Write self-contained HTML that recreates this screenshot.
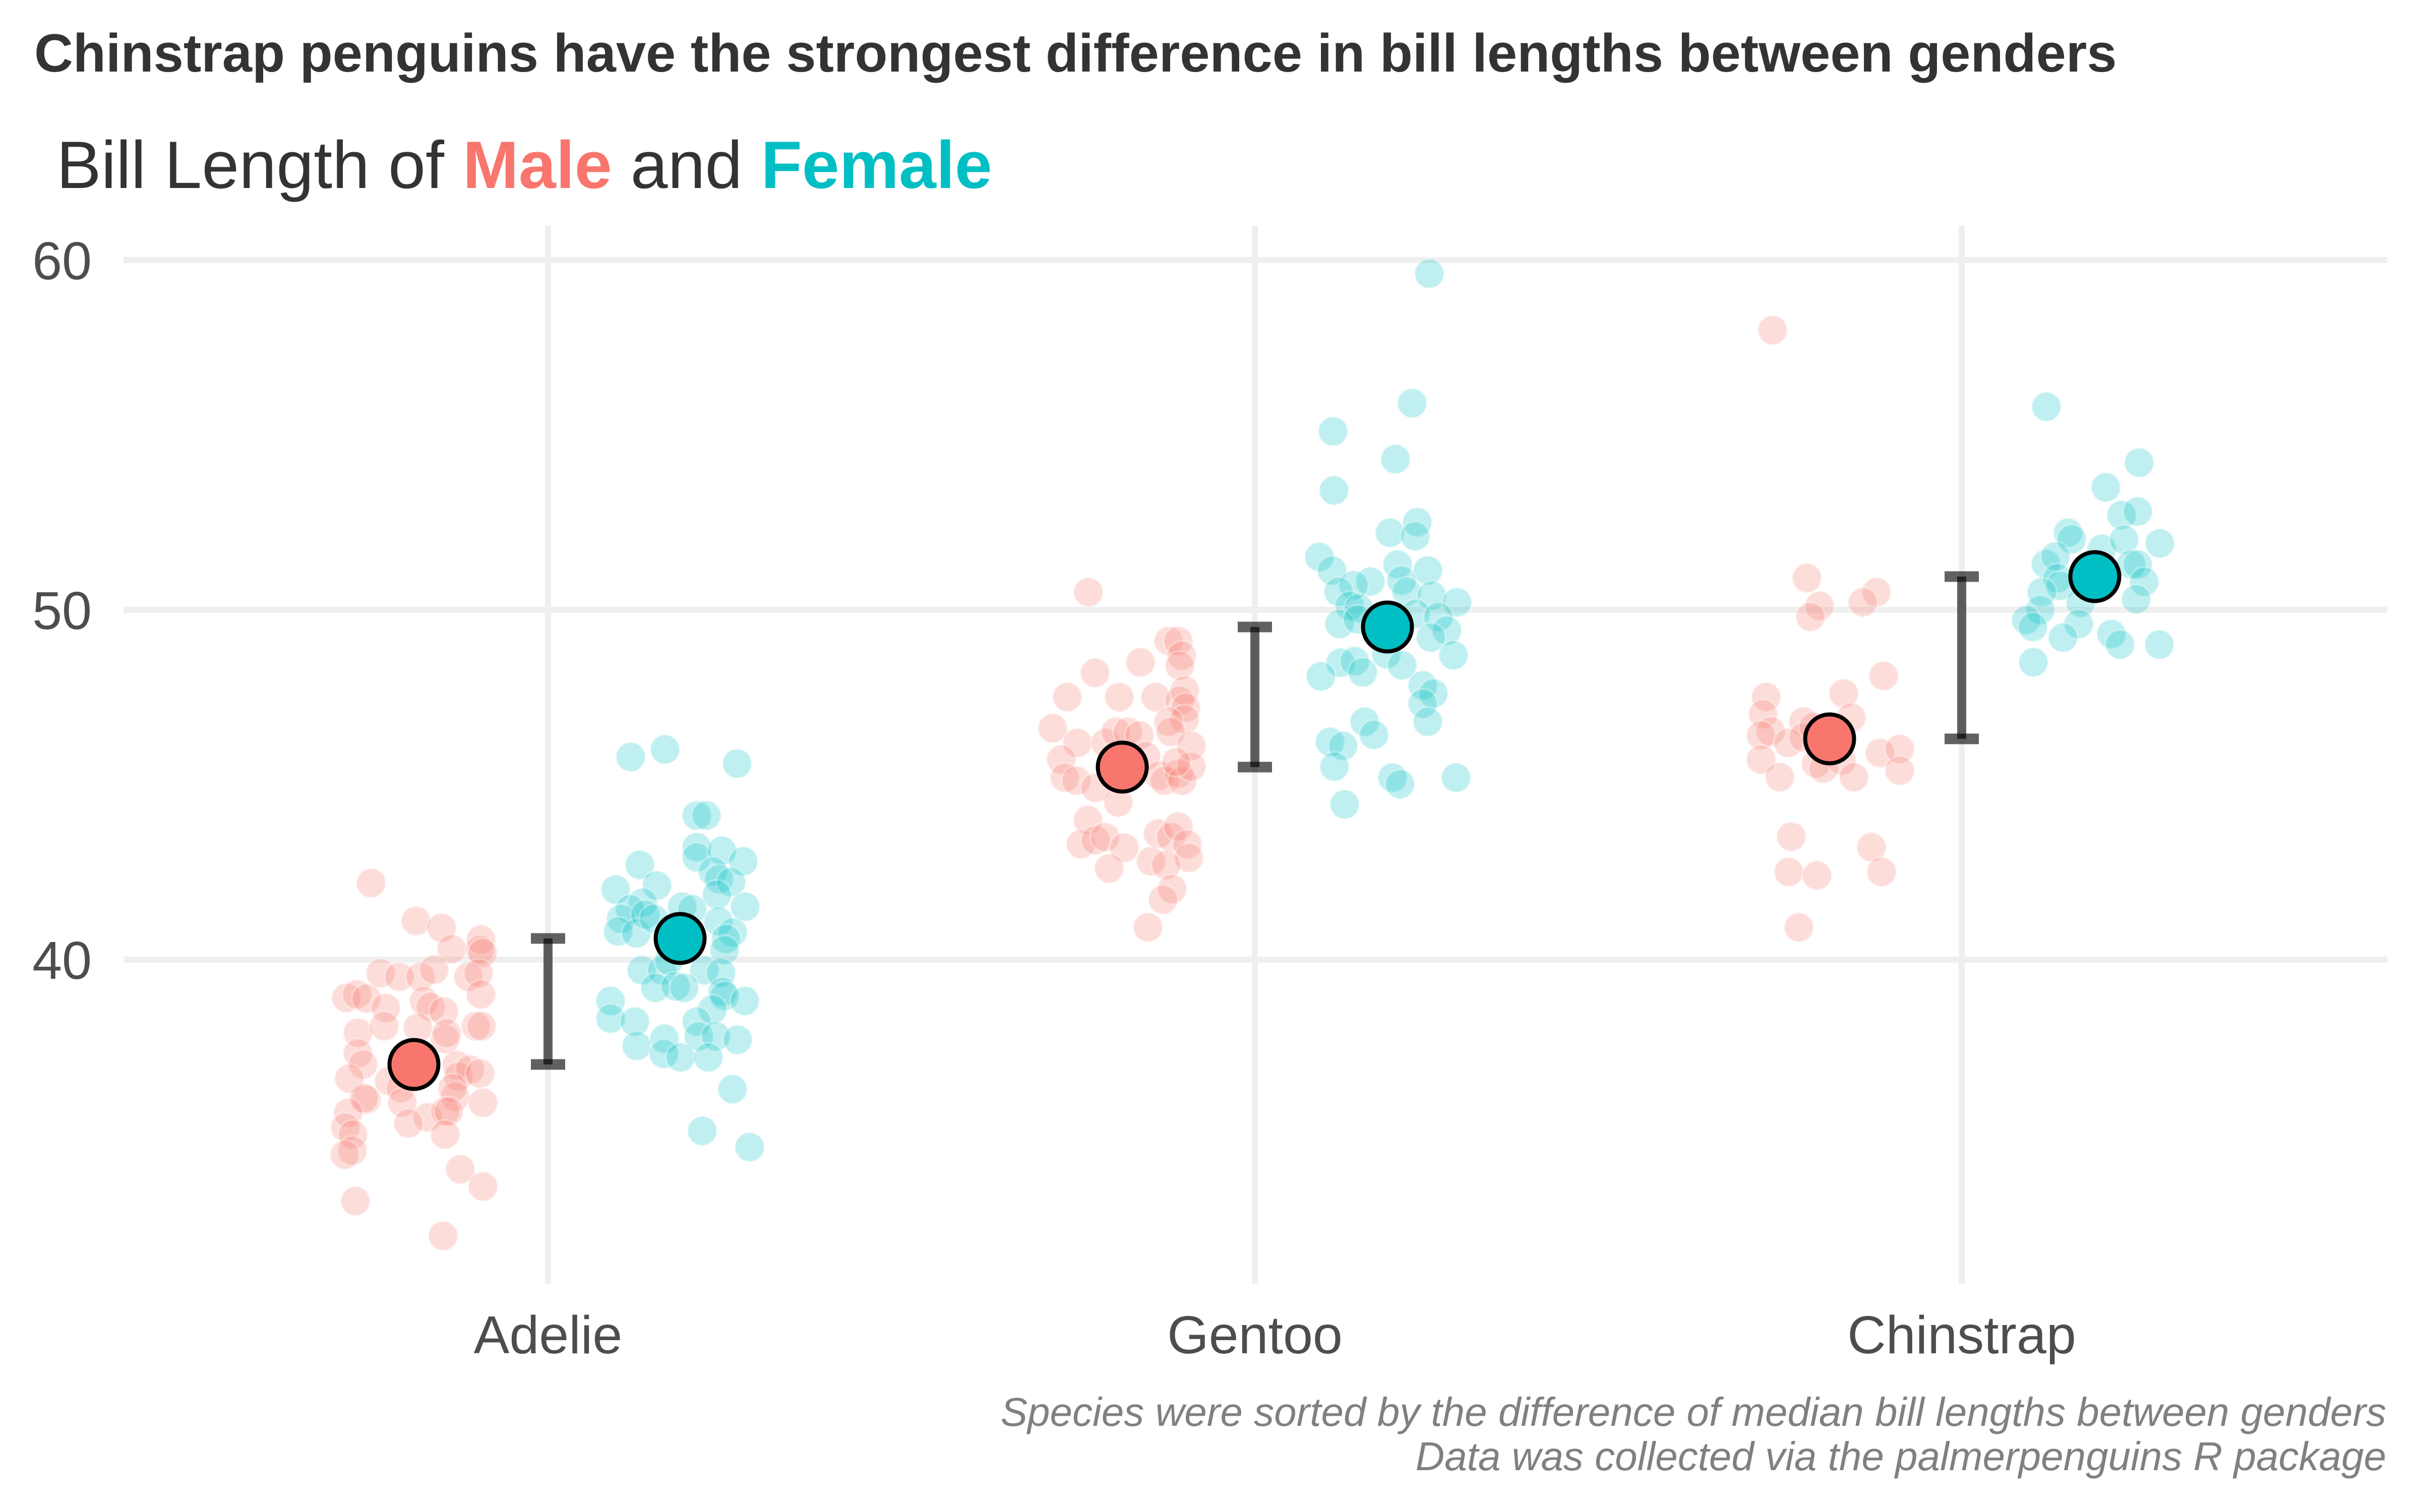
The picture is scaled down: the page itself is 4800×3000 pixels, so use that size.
<!DOCTYPE html>
<html>
<head>
<meta charset="utf-8">
<style>
html,body{margin:0;padding:0;background:#fff;}
svg{display:block;}
text{font-family:"Liberation Sans", Arial, sans-serif;}
</style>
</head>
<body>
<svg width="4800" height="3000" viewBox="0 0 4800 3000" xmlns="http://www.w3.org/2000/svg">
<rect width="4800" height="3000" fill="#ffffff"/>

<text x="68" y="142" font-size="106.5" font-weight="bold" fill="#333333">Chinstrap penguins have the strongest difference in bill lengths between genders</text>
<text x="112" y="373" font-size="133" fill="#333333">Bill Length of <tspan fill="#F8766D" font-weight="bold">Male</tspan> and <tspan fill="#00BFC4" font-weight="bold">Female</tspan></text>

<g stroke="#EFEFEF" stroke-width="12">
  <line x1="245" y1="516" x2="4735" y2="516"/>
  <line x1="245" y1="1210" x2="4735" y2="1210"/>
  <line x1="245" y1="1904" x2="4735" y2="1904"/>
  <line x1="1087" y1="448" x2="1087" y2="2547"/>
  <line x1="2489" y1="448" x2="2489" y2="2547"/>
  <line x1="3891" y1="448" x2="3891" y2="2547"/>
</g>

<g font-size="106" fill="#4D4D4D" text-anchor="end">
  <text x="182" y="554">60</text>
  <text x="182" y="1248">50</text>
  <text x="182" y="1942">40</text>
</g>

<g font-size="106" fill="#4D4D4D" text-anchor="middle">
  <text x="1087" y="2685">Adelie</text>
  <text x="2489" y="2685">Gentoo</text>
  <text x="3891" y="2685">Chinstrap</text>
</g>

<g font-size="80" font-style="italic" fill="#808080" text-anchor="end">
  <text x="4733" y="2829">Species were sorted by the difference of median bill lengths between genders</text>
  <text x="4733" y="2917">Data was collected via the palmerpenguins R package</text>
</g>

<g fill="rgba(248,118,109,0.25)" stroke="rgba(255,255,255,0.3)" stroke-width="4">
  <circle cx="736" cy="1752" r="29"/>
  <circle cx="825" cy="1827" r="29"/>
  <circle cx="876" cy="1841" r="29"/>
  <circle cx="954" cy="1864" r="29"/>
  <circle cx="896" cy="1883" r="29"/>
  <circle cx="952" cy="1884" r="29"/>
  <circle cx="957" cy="1891" r="29"/>
  <circle cx="755" cy="1931" r="29"/>
  <circle cx="792" cy="1938" r="29"/>
  <circle cx="834" cy="1938" r="29"/>
  <circle cx="861" cy="1924" r="29"/>
  <circle cx="929" cy="1938" r="29"/>
  <circle cx="949" cy="1931" r="29"/>
  <circle cx="687" cy="1980" r="29"/>
  <circle cx="708" cy="1973" r="29"/>
  <circle cx="727" cy="1981" r="29"/>
  <circle cx="765" cy="2000" r="29"/>
  <circle cx="841" cy="1986" r="29"/>
  <circle cx="854" cy="1998" r="29"/>
  <circle cx="880" cy="2007" r="29"/>
  <circle cx="954" cy="1973" r="29"/>
  <circle cx="710" cy="2049" r="29"/>
  <circle cx="762" cy="2036" r="29"/>
  <circle cx="829" cy="2039" r="29"/>
  <circle cx="883" cy="2062" r="29"/>
  <circle cx="886" cy="2050" r="29"/>
  <circle cx="944" cy="2036" r="29"/>
  <circle cx="955" cy="2036" r="29"/>
  <circle cx="710" cy="2090" r="29"/>
  <circle cx="720" cy="2112" r="29"/>
  <circle cx="693" cy="2140" r="29"/>
  <circle cx="772" cy="2145" r="29"/>
  <circle cx="906" cy="2113" r="29"/>
  <circle cx="909" cy="2136" r="29"/>
  <circle cx="932" cy="2122" r="29"/>
  <circle cx="952" cy="2130" r="29"/>
  <circle cx="727" cy="2182" r="29"/>
  <circle cx="722" cy="2179" r="29"/>
  <circle cx="795" cy="2159" r="29"/>
  <circle cx="798" cy="2188" r="29"/>
  <circle cx="691" cy="2208" r="29"/>
  <circle cx="903" cy="2176" r="29"/>
  <circle cx="898" cy="2159" r="29"/>
  <circle cx="958" cy="2188" r="29"/>
  <circle cx="848" cy="2217" r="29"/>
  <circle cx="883" cy="2205" r="29"/>
  <circle cx="890" cy="2205" r="29"/>
  <circle cx="810" cy="2229" r="29"/>
  <circle cx="685" cy="2237" r="29"/>
  <circle cx="700" cy="2251" r="29"/>
  <circle cx="883" cy="2251" r="29"/>
  <circle cx="699" cy="2283" r="29"/>
  <circle cx="684" cy="2291" r="29"/>
  <circle cx="913" cy="2320" r="29"/>
  <circle cx="958" cy="2354" r="29"/>
  <circle cx="705" cy="2383" r="29"/>
  <circle cx="879" cy="2452" r="29"/>
  <circle cx="2159" cy="1175" r="29"/>
  <circle cx="2318" cy="1272" r="29"/>
  <circle cx="2337" cy="1272" r="29"/>
  <circle cx="2344" cy="1301" r="29"/>
  <circle cx="2340" cy="1321" r="29"/>
  <circle cx="2262" cy="1314" r="29"/>
  <circle cx="2172" cy="1335" r="29"/>
  <circle cx="2117" cy="1383" r="29"/>
  <circle cx="2220" cy="1383" r="29"/>
  <circle cx="2292" cy="1383" r="29"/>
  <circle cx="2350" cy="1370" r="29"/>
  <circle cx="2340" cy="1390" r="29"/>
  <circle cx="2352" cy="1404" r="29"/>
  <circle cx="2350" cy="1427" r="29"/>
  <circle cx="2318" cy="1432" r="29"/>
  <circle cx="2322" cy="1452" r="29"/>
  <circle cx="2088" cy="1445" r="29"/>
  <circle cx="2137" cy="1474" r="29"/>
  <circle cx="2193" cy="1474" r="29"/>
  <circle cx="2213" cy="1452" r="29"/>
  <circle cx="2237" cy="1452" r="29"/>
  <circle cx="2260" cy="1459" r="29"/>
  <circle cx="2363" cy="1480" r="29"/>
  <circle cx="2105" cy="1507" r="29"/>
  <circle cx="2112" cy="1543" r="29"/>
  <circle cx="2135" cy="1549" r="29"/>
  <circle cx="2173" cy="1563" r="29"/>
  <circle cx="2218" cy="1592" r="29"/>
  <circle cx="2273" cy="1500" r="29"/>
  <circle cx="2300" cy="1539" r="29"/>
  <circle cx="2310" cy="1549" r="29"/>
  <circle cx="2338" cy="1535" r="29"/>
  <circle cx="2345" cy="1549" r="29"/>
  <circle cx="2363" cy="1521" r="29"/>
  <circle cx="2333" cy="1512" r="29"/>
  <circle cx="2158" cy="1627" r="29"/>
  <circle cx="2144" cy="1675" r="29"/>
  <circle cx="2173" cy="1667" r="29"/>
  <circle cx="2192" cy="1661" r="29"/>
  <circle cx="2230" cy="1682" r="29"/>
  <circle cx="2200" cy="1723" r="29"/>
  <circle cx="2297" cy="1654" r="29"/>
  <circle cx="2323" cy="1661" r="29"/>
  <circle cx="2337" cy="1640" r="29"/>
  <circle cx="2355" cy="1675" r="29"/>
  <circle cx="2358" cy="1702" r="29"/>
  <circle cx="2283" cy="1709" r="29"/>
  <circle cx="2313" cy="1716" r="29"/>
  <circle cx="2325" cy="1764" r="29"/>
  <circle cx="2307" cy="1785" r="29"/>
  <circle cx="2277" cy="1840" r="29"/>
  <circle cx="3516" cy="655" r="29"/>
  <circle cx="3584" cy="1147" r="29"/>
  <circle cx="3722" cy="1175" r="29"/>
  <circle cx="3695" cy="1195" r="29"/>
  <circle cx="3609" cy="1202" r="29"/>
  <circle cx="3591" cy="1224" r="29"/>
  <circle cx="3736" cy="1341" r="29"/>
  <circle cx="3657" cy="1376" r="29"/>
  <circle cx="3503" cy="1383" r="29"/>
  <circle cx="3497" cy="1417" r="29"/>
  <circle cx="3672" cy="1424" r="29"/>
  <circle cx="3577" cy="1432" r="29"/>
  <circle cx="3512" cy="1451" r="29"/>
  <circle cx="3493" cy="1459" r="29"/>
  <circle cx="3547" cy="1474" r="29"/>
  <circle cx="3577" cy="1463" r="29"/>
  <circle cx="3597" cy="1442" r="29"/>
  <circle cx="3493" cy="1507" r="29"/>
  <circle cx="3530" cy="1542" r="29"/>
  <circle cx="3602" cy="1515" r="29"/>
  <circle cx="3617" cy="1525" r="29"/>
  <circle cx="3653" cy="1509" r="29"/>
  <circle cx="3677" cy="1542" r="29"/>
  <circle cx="3729" cy="1494" r="29"/>
  <circle cx="3768" cy="1486" r="29"/>
  <circle cx="3768" cy="1529" r="29"/>
  <circle cx="3553" cy="1660" r="29"/>
  <circle cx="3712" cy="1681" r="29"/>
  <circle cx="3548" cy="1730" r="29"/>
  <circle cx="3604" cy="1737" r="29"/>
  <circle cx="3732" cy="1730" r="29"/>
  <circle cx="3568" cy="1840" r="29"/>
</g>

<g fill="rgba(0,191,196,0.25)" stroke="rgba(255,255,255,0.3)" stroke-width="4">
  <circle cx="1251" cy="1502" r="29"/>
  <circle cx="1319" cy="1487" r="29"/>
  <circle cx="1462" cy="1515" r="29"/>
  <circle cx="1382" cy="1618" r="29"/>
  <circle cx="1401" cy="1618" r="29"/>
  <circle cx="1269" cy="1716" r="29"/>
  <circle cx="1221" cy="1765" r="29"/>
  <circle cx="1303" cy="1757" r="29"/>
  <circle cx="1382" cy="1681" r="29"/>
  <circle cx="1382" cy="1701" r="29"/>
  <circle cx="1432" cy="1688" r="29"/>
  <circle cx="1474" cy="1709" r="29"/>
  <circle cx="1414" cy="1729" r="29"/>
  <circle cx="1426" cy="1744" r="29"/>
  <circle cx="1450" cy="1750" r="29"/>
  <circle cx="1422" cy="1775" r="29"/>
  <circle cx="1478" cy="1799" r="29"/>
  <circle cx="1275" cy="1791" r="29"/>
  <circle cx="1250" cy="1804" r="29"/>
  <circle cx="1232" cy="1823" r="29"/>
  <circle cx="1226" cy="1848" r="29"/>
  <circle cx="1262" cy="1852" r="29"/>
  <circle cx="1280" cy="1815" r="29"/>
  <circle cx="1297" cy="1823" r="29"/>
  <circle cx="1353" cy="1799" r="29"/>
  <circle cx="1373" cy="1804" r="29"/>
  <circle cx="1425" cy="1828" r="29"/>
  <circle cx="1453" cy="1850" r="29"/>
  <circle cx="1440" cy="1863" r="29"/>
  <circle cx="1437" cy="1885" r="29"/>
  <circle cx="1273" cy="1925" r="29"/>
  <circle cx="1313" cy="1925" r="29"/>
  <circle cx="1327" cy="1906" r="29"/>
  <circle cx="1397" cy="1925" r="29"/>
  <circle cx="1430" cy="1930" r="29"/>
  <circle cx="1300" cy="1960" r="29"/>
  <circle cx="1340" cy="1957" r="29"/>
  <circle cx="1357" cy="1960" r="29"/>
  <circle cx="1433" cy="1968" r="29"/>
  <circle cx="1437" cy="1976" r="29"/>
  <circle cx="1477" cy="1986" r="29"/>
  <circle cx="1211" cy="1986" r="29"/>
  <circle cx="1211" cy="2021" r="29"/>
  <circle cx="1259" cy="2027" r="29"/>
  <circle cx="1413" cy="2003" r="29"/>
  <circle cx="1382" cy="2027" r="29"/>
  <circle cx="1386" cy="2056" r="29"/>
  <circle cx="1420" cy="2056" r="29"/>
  <circle cx="1463" cy="2063" r="29"/>
  <circle cx="1263" cy="2075" r="29"/>
  <circle cx="1318" cy="2061" r="29"/>
  <circle cx="1317" cy="2091" r="29"/>
  <circle cx="1350" cy="2098" r="29"/>
  <circle cx="1405" cy="2098" r="29"/>
  <circle cx="1453" cy="2161" r="29"/>
  <circle cx="1393" cy="2244" r="29"/>
  <circle cx="1487" cy="2276" r="29"/>
  <circle cx="2835" cy="543" r="29"/>
  <circle cx="2801" cy="800" r="29"/>
  <circle cx="2644" cy="856" r="29"/>
  <circle cx="2768" cy="911" r="29"/>
  <circle cx="2646" cy="973" r="29"/>
  <circle cx="2757" cy="1057" r="29"/>
  <circle cx="2811" cy="1036" r="29"/>
  <circle cx="2807" cy="1064" r="29"/>
  <circle cx="2617" cy="1105" r="29"/>
  <circle cx="2642" cy="1132" r="29"/>
  <circle cx="2772" cy="1120" r="29"/>
  <circle cx="2832" cy="1132" r="29"/>
  <circle cx="2718" cy="1154" r="29"/>
  <circle cx="2685" cy="1161" r="29"/>
  <circle cx="2655" cy="1174" r="29"/>
  <circle cx="2780" cy="1152" r="29"/>
  <circle cx="2790" cy="1174" r="29"/>
  <circle cx="2840" cy="1182" r="29"/>
  <circle cx="2890" cy="1195" r="29"/>
  <circle cx="2677" cy="1202" r="29"/>
  <circle cx="2695" cy="1207" r="29"/>
  <circle cx="2808" cy="1218" r="29"/>
  <circle cx="2853" cy="1224" r="29"/>
  <circle cx="2657" cy="1238" r="29"/>
  <circle cx="2693" cy="1229" r="29"/>
  <circle cx="2870" cy="1251" r="29"/>
  <circle cx="2838" cy="1265" r="29"/>
  <circle cx="2883" cy="1300" r="29"/>
  <circle cx="2659" cy="1315" r="29"/>
  <circle cx="2687" cy="1312" r="29"/>
  <circle cx="2703" cy="1334" r="29"/>
  <circle cx="2620" cy="1342" r="29"/>
  <circle cx="2750" cy="1298" r="29"/>
  <circle cx="2781" cy="1320" r="29"/>
  <circle cx="2822" cy="1360" r="29"/>
  <circle cx="2843" cy="1376" r="29"/>
  <circle cx="2822" cy="1396" r="29"/>
  <circle cx="2832" cy="1432" r="29"/>
  <circle cx="2707" cy="1432" r="29"/>
  <circle cx="2725" cy="1458" r="29"/>
  <circle cx="2638" cy="1472" r="29"/>
  <circle cx="2664" cy="1480" r="29"/>
  <circle cx="2647" cy="1521" r="29"/>
  <circle cx="2762" cy="1543" r="29"/>
  <circle cx="2777" cy="1556" r="29"/>
  <circle cx="2888" cy="1543" r="29"/>
  <circle cx="2667" cy="1596" r="29"/>
  <circle cx="4059" cy="807" r="29"/>
  <circle cx="4243" cy="918" r="29"/>
  <circle cx="4177" cy="967" r="29"/>
  <circle cx="4208" cy="1022" r="29"/>
  <circle cx="4240" cy="1015" r="29"/>
  <circle cx="4102" cy="1057" r="29"/>
  <circle cx="4109" cy="1070" r="29"/>
  <circle cx="4169" cy="1089" r="29"/>
  <circle cx="4213" cy="1071" r="29"/>
  <circle cx="4284" cy="1078" r="29"/>
  <circle cx="4058" cy="1119" r="29"/>
  <circle cx="4077" cy="1104" r="29"/>
  <circle cx="4227" cy="1120" r="29"/>
  <circle cx="4240" cy="1120" r="29"/>
  <circle cx="4081" cy="1147" r="29"/>
  <circle cx="4087" cy="1162" r="29"/>
  <circle cx="4050" cy="1175" r="29"/>
  <circle cx="4253" cy="1154" r="29"/>
  <circle cx="4237" cy="1189" r="29"/>
  <circle cx="4047" cy="1210" r="29"/>
  <circle cx="4127" cy="1196" r="29"/>
  <circle cx="4019" cy="1230" r="29"/>
  <circle cx="4032" cy="1244" r="29"/>
  <circle cx="4123" cy="1238" r="29"/>
  <circle cx="4092" cy="1265" r="29"/>
  <circle cx="4188" cy="1258" r="29"/>
  <circle cx="4205" cy="1279" r="29"/>
  <circle cx="4283" cy="1279" r="29"/>
  <circle cx="4033" cy="1314" r="29"/>
</g>

<g stroke="rgba(0,0,0,0.62)" fill="none">
  <line x1="1087" y1="1862" x2="1087" y2="2112" stroke-width="18"/>
  <line x1="1053" y1="1862" x2="1121" y2="1862" stroke-width="21"/>
  <line x1="1053" y1="2112" x2="1121" y2="2112" stroke-width="21"/>
  <line x1="2489" y1="1244" x2="2489" y2="1522" stroke-width="18"/>
  <line x1="2455" y1="1244" x2="2523" y2="1244" stroke-width="21"/>
  <line x1="2455" y1="1522" x2="2523" y2="1522" stroke-width="21"/>
  <line x1="3891" y1="1144" x2="3891" y2="1466" stroke-width="18"/>
  <line x1="3857" y1="1144" x2="3925" y2="1144" stroke-width="21"/>
  <line x1="3857" y1="1466" x2="3925" y2="1466" stroke-width="21"/>
</g>

<g stroke="#000" stroke-width="8">
  <circle cx="821" cy="2112" r="48.5" fill="#F8766D"/>
  <circle cx="1349" cy="1862" r="48.5" fill="#00BFC4"/>
  <circle cx="2226" cy="1522" r="48.5" fill="#F8766D"/>
  <circle cx="2752" cy="1244" r="48.5" fill="#00BFC4"/>
  <circle cx="3629" cy="1466" r="48.5" fill="#F8766D"/>
  <circle cx="4155" cy="1144" r="48.5" fill="#00BFC4"/>
</g>
</svg>
</body>
</html>
